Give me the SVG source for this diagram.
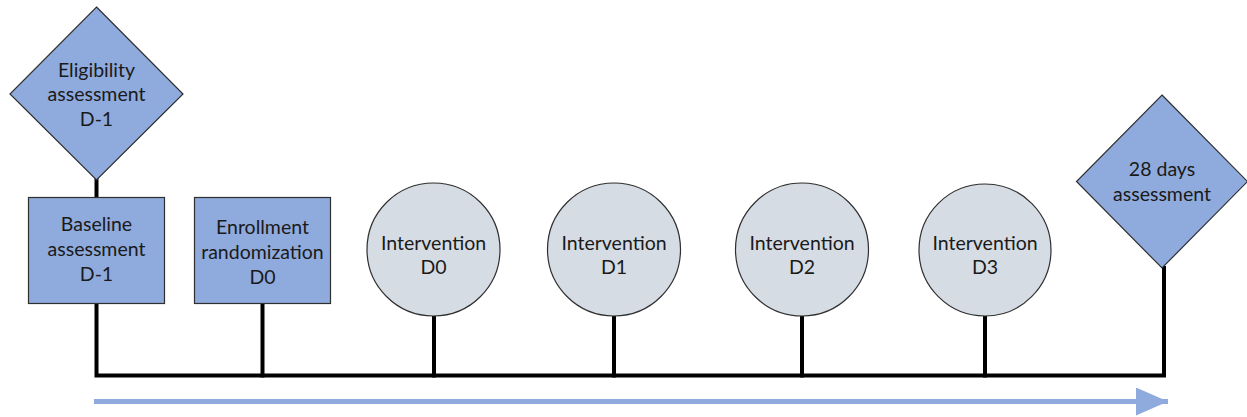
<svg xmlns="http://www.w3.org/2000/svg" width="1247" height="417" viewBox="0 0 1247 417">
<style>
.blue{fill:#8FAADC;stroke:#2F2F2F;stroke-width:1.2}
.grey{fill:#D6DCE4;stroke:#2F2F2F;stroke-width:1.2}
.t{font-family:Lato,"Liberation Sans",sans-serif;font-size:19.5px;fill:#1a1a1a;text-anchor:middle}
.c{stroke:#000;stroke-width:4;fill:none;stroke-linecap:square}
</style>
<defs>
<marker id="ah" markerWidth="32" markerHeight="28" refX="32" refY="14" markerUnits="userSpaceOnUse" orient="auto">
<path d="M0,0 L32,14 L0,28 Z" fill="#8FAADC"/>
</marker>
</defs>
<g id="connectors">
<path class="c" d="M96.5,180 V197"/>
<path class="c" d="M96.5,304 V375.5 H1164 V268"/>
<path class="c" d="M262.5,304 V375.5"/>
<path class="c" d="M434,316 V375.5"/>
<path class="c" d="M614,316 V375.5"/>
<path class="c" d="M802,316 V375.5"/>
<path class="c" d="M985,316 V375.5"/>
<path d="M94,401.5 H1168" stroke="#8FAADC" stroke-width="5" fill="none" marker-end="url(#ah)"/>
</g>
<g id="eligibility">
<polygon class="blue" points="96.5,7 183,94 96.5,180 10,94"/>
<text class="t" x="96.5" y="77">Eligibility</text>
<text class="t" x="96.5" y="101">assessment</text>
<text class="t" x="96.5" y="126">D-1</text>
</g>
<g id="baseline">
<rect class="blue" x="28.5" y="197.5" width="136" height="106"/>
<text class="t" x="96.5" y="231">Baseline</text>
<text class="t" x="96.5" y="256">assessment</text>
<text class="t" x="96.5" y="281">D-1</text>
</g>
<g id="enrollment">
<rect class="blue" x="194.5" y="197.5" width="136" height="106"/>
<text class="t" x="262.5" y="234">Enrollment</text>
<text class="t" x="262.5" y="259">randomization</text>
<text class="t" x="262.5" y="284">D0</text>
</g>
<g id="int-d0">
<circle class="grey" cx="433.5" cy="249.5" r="66.5"/>
<text class="t" x="433.5" y="250">Intervention</text>
<text class="t" x="433.5" y="274">D0</text>
</g>
<g id="int-d1">
<circle class="grey" cx="614" cy="249.5" r="66.5"/>
<text class="t" x="614" y="250">Intervention</text>
<text class="t" x="614" y="274">D1</text>
</g>
<g id="int-d2">
<circle class="grey" cx="802" cy="249.5" r="66.5"/>
<text class="t" x="802" y="250">Intervention</text>
<text class="t" x="802" y="274">D2</text>
</g>
<g id="int-d3">
<circle class="grey" cx="985" cy="250" r="66"/>
<text class="t" x="985" y="250">Intervention</text>
<text class="t" x="985" y="274">D3</text>
</g>
<g id="days28">
<polygon class="blue" points="1162,95 1247.5,181.5 1162,268 1076.5,181.5"/>
<text class="t" x="1162" y="176">28 days</text>
<text class="t" x="1162" y="201">assessment</text>
</g>
</svg>
